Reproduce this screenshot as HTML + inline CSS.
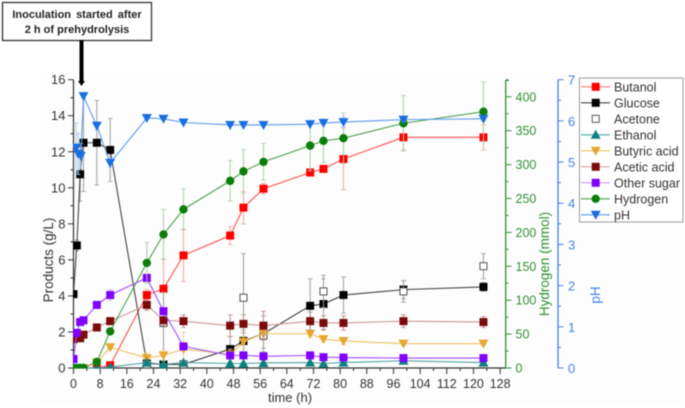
<!DOCTYPE html>
<html>
<head>
<meta charset="utf-8">
<style>
html,body{margin:0;padding:0;background:#fff;width:685px;height:408px;overflow:hidden}
svg{display:block;filter:blur(0.5px)}
text{font-family:"Liberation Sans",sans-serif}
</style>
</head>
<body>
<svg id="chart" xmlns="http://www.w3.org/2000/svg" width="685" height="408" viewBox="0 0 685 408">
  <defs><clipPath id="plot-clip"><rect x="73" y="76" width="433" height="292.500"/></clipPath></defs>
  <rect x="40" y="72" width="645" height="333" fill="#fdfdfd"/>
  <rect x="2.500" y="2.500" width="149" height="38" fill="#fff" stroke="#333" stroke-width="1.300"/>
  <text x="77" y="18" text-anchor="middle" font-size="11" font-weight="bold" fill="#222" word-spacing="2">Inoculation started after</text>
  <text x="77" y="33" text-anchor="middle" font-size="11" font-weight="bold" fill="#222">2 h of prehydrolysis</text>
  <g id="axes"></g>
  <g id="marks"></g>
  <rect x="79.500" y="40" width="4" height="42" fill="#000"/>
  <path d="M78 81H85L81.500 86Z" fill="#000"/>
  <g id="legend"></g>
</svg>
<script>
const times = [0,1,2,3,7,11,22,27,33,47,51,57,71,75,81,99,123];
const phTimes = [0.8,1.4,2.2,3,7,11,22,27,33,47,51,57,71,75,81,99,123];

const butanol = [0,0,0,0,0,0.15,4.05,4.4,6.25,7.35,8.9,9.95,10.85,11.05,11.6,12.8,12.8];
const butanolErr = [0,0,0,0,0,0.1,0.3,1.65,1.45,0.5,0.9,0.3,0.2,0.15,1.7,0.7,0.7];
const glucose = [4.1,6.8,10.75,12.5,12.5,12.1,0.25,0.2,0.2,1.05,1.5,1.9,3.45,3.55,4.05,4.35,4.5];
const glucoseErr = [0,0.3,1.5,2.7,2.35,1.75,0.1,0.1,0.1,0.7,0.6,1,1.5,1.4,1,0.5,0.25];
const acetone = [null,null,null,null,null,null,0.2,2.5,0.2,null,3.9,1.8,null,4.25,null,4.25,5.65];
const acetoneErr = [0,0,0,0,0,0,0.1,1.7,0.1,0,2.45,0.7,0,0.9,0,0.6,0.7];
const ethanol = [0,0,0,0,0,0.05,0.3,0.2,0.3,0.25,0.25,0.28,0.3,0.25,0.3,0.4,0.3];
const ethanolErr = [0,0,0,0,0,0,0.05,0.05,0.05,0.05,0.05,0.05,0.05,0.05,0.05,0.05,0.05];
const butyric = [0,0,0,0,0.3,1.15,0.55,0.7,1.05,0.75,1.45,1.9,1.9,1.6,1.5,1.35,1.35];
const butyricErr = [0,0,0,0,0,0.15,0.3,0.3,0.95,0.3,0.3,0.1,0.2,0.15,0.2,0.1,0.1];
const acetic = [1.6,1.75,1.65,1.85,2.25,2.6,3.5,2.65,2.6,2.35,2.45,2.35,2.6,2.5,2.5,2.6,2.55];
const aceticErr = [0.1,0.2,0.15,0.1,0.15,0.2,0.3,0.3,0.35,0.6,0.5,0.8,0.5,0.4,0.4,0.35,0.3];
const otherSugar = [0.5,1.95,2.55,2.65,3.5,4.05,5,3.15,1.2,0.7,0.7,0.65,0.7,0.6,0.58,0.55,0.55];
const otherSugarErr = [0,0.1,0.1,0.1,0.1,0.3,0.2,0.2,0.1,0.1,0.05,0.05,0.05,0.05,0.05,0.05,0.05];
const hydrogen = [0,0,0,0,9,54,155,197,234,276,290,304,328,335,339,361,378];
const hydrogenErr = [0,0,0,0,2,3,30,37,30,30,32,27,37,32,37,41,44];
const ph = [5.35,5.2,5.15,6.6,5.88,4.98,6.07,6.05,5.96,5.9,5.9,5.9,5.92,5.95,5.97,6.03,6.05];
const phErr = [0.6,0.5,0.3,0.05,0.1,0.1,0.03,0.03,0.03,0.03,0.03,0.03,0.03,0.05,0.12,0.05,0.05];

const xTicks = [0,8,16,24,32,40,48,56,64,72,80,88,96,104,112,120,128];
const leftTicks = [0,2,4,6,8,10,12,14,16];
const hydrogenTicks = [0,50,100,150,200,250,300,350,400];
const phTicks = [0,1,2,3,4,5,6,7];
const legendLabels = ["Butanol","Glucose","Acetone","Ethanol","Butyric acid","Acetic acid","Other sugar","Hydrogen","pH"];

const X = t => 73.5 + t * 3.333;
const YL = v => 368 - v * 18.02;
const YH = v => 368 - v * 0.678;
const YP = v => 368 - v * 41.19;

const NS = 'http://www.w3.org/2000/svg';
const INK = '#333', GREEN = '#2f9136', BLUE = '#3f84ea';

function make(parent, tag, attrs) {
  const el = document.createElementNS(NS, tag);
  for (const k in attrs) el.setAttribute(k, attrs[k]);
  parent.appendChild(el);
  return el;
}
function rule(parent, x1, y1, x2, y2, color, w) {
  return make(parent, 'line', {x1: x1, y1: y1, x2: x2, y2: y2, stroke: color, 'stroke-width': w});
}
function label(parent, x, y, str, anchor, color, size) {
  const t = make(parent, 'text', {x: x, y: y, 'text-anchor': anchor, fill: color, 'font-size': size});
  t.textContent = str;
  return t;
}
function marker(parent, kind, x, y, color) {
  if (kind === 'square') return make(parent, 'rect', {x: x - 4, y: y - 4, width: 8, height: 8, fill: color});
  if (kind === 'hollow') return make(parent, 'rect', {x: x - 3.5, y: y - 3.5, width: 7, height: 7, fill: '#fff', stroke: '#555', 'stroke-width': 1});
  if (kind === 'circle') return make(parent, 'circle', {cx: x, cy: y, r: 4.2, fill: color});
  if (kind === 'up') return make(parent, 'path', {d: `M${x - 5} ${y + 4}H${x + 5}L${x} ${y - 5}Z`, fill: color});
  return make(parent, 'path', {d: `M${x - 5} ${y - 4}H${x + 5}L${x} ${y + 5}Z`, fill: color});
}

const axes = document.getElementById('axes');
const marks = document.getElementById('marks');
const legend = document.getElementById('legend');

/* axes */
const xAxis = rule(axes, 73.5, 368, 506, 368, INK, 1.2);


const leftAxis = rule(axes, 73.5, 80, 73.5, 368, INK, 1.2);


const greenAxis = rule(axes, 505.7, 80, 505.7, 368, GREEN, 1.3);


const blueAxis = rule(axes, 558, 80, 558, 368, BLUE, 1.3);



xTicks.forEach(v => {
  rule(axes, X(v), 368, X(v), 374, INK, 1);
  if (v < 128) rule(axes, X(v + 4), 368, X(v + 4), 371, INK, 1);
  const t = label(axes, X(v), 388, v, 'middle', INK, 12.5);
  
  
});
leftTicks.forEach(v => {
  rule(axes, 68, YL(v), 73.5, YL(v), INK, 1);
  if (v < 16) rule(axes, 70.5, YL(v + 1), 73.5, YL(v + 1), INK, 1);
  const t = label(axes, 65.5, YL(v) + 4.5, v, 'end', INK, 13);
  
  
});
hydrogenTicks.forEach(v => {
  rule(axes, 505.7, YH(v), 511.5, YH(v), GREEN, 1);
  rule(axes, 505.7, YH(v + 25), 508.5, YH(v + 25), GREEN, 1);
  const t = label(axes, 515.5, YH(v) + 4.5, v, 'start', GREEN, 12.5);
  
  
});
rule(axes, 505.7, 80.5, 509, 80.5, GREEN, 1);
phTicks.forEach(v => {
  rule(axes, 558, YP(v), 563.5, YP(v), BLUE, 1);
  if (v < 7) rule(axes, 558, YP(v + 0.5), 561, YP(v + 0.5), BLUE, 1);
  const t = label(axes, 568, YP(v) + 5, v, 'start', BLUE, 13);
  
  
});

/* axis titles */
const xTitle = label(axes, 290, 402, 'time (h)', 'middle', INK, 13);


const yTitle = label(axes, 0, 0, 'Products (g/L)', 'middle', INK, 13.5);
yTitle.setAttribute('transform', 'translate(53 260) rotate(-90)');


const hTitle = label(axes, 0, 0, 'Hydrogen (mmol)', 'middle', GREEN, 13.5);
hTitle.setAttribute('transform', 'translate(549 264) rotate(-90)');


const pTitle = label(axes, 0, 0, 'pH', 'middle', BLUE, 13.5);
pTitle.setAttribute('transform', 'translate(600 295) rotate(-90)');



/* series */
function drawSeries(name, ts, values, errs, yFn, kind, color, lineColor, errColor, connect) {
  const g = make(marks, 'g', {'clip-path': 'url(#plot-clip)'});
  
  
  values.forEach((v, i) => {
    if (v === null || !errs[i]) return;
    const x = X(ts[i]), top = yFn(v + errs[i]), bot = yFn(Math.max(v - errs[i], 0));
    rule(g, x, top, x, bot, errColor, 1);
    rule(g, x - 2.5, top, x + 2.5, top, errColor, 0.8);
    rule(g, x - 2.5, bot, x + 2.5, bot, errColor, 0.8);
  });
  if (connect) {
    const pts = values.map((v, i) => X(ts[i]) + ',' + yFn(v)).join(' ');
    make(g, 'polyline', {points: pts, fill: 'none', stroke: lineColor, 'stroke-width': 1.1});
  }
  values.forEach((v, i) => {
    if (v === null) return;
    const m = marker(g, kind, X(ts[i]), yFn(v), color);
    
    
  });
}
drawSeries('butanol', times, butanol, butanolErr, YL, 'square', '#ff0000', '#ff4d4d', '#f6a3a3', true);
drawSeries('glucose', times, glucose, glucoseErr, YL, 'square', '#000000', '#444444', '#a0a0a0', true);
drawSeries('acetone', times, acetone, acetoneErr, YL, 'hollow', '#555555', '#555555', '#9a9a9a', false);
drawSeries('butyric-acid', times, butyric, butyricErr, YL, 'down', '#e5a832', '#efc064', '#f0d08c', true);
drawSeries('acetic-acid', times, acetic, aceticErr, YL, 'square', '#7b0a0a', '#c79a9a', '#c08888', true);
drawSeries('ethanol', times, ethanol, ethanolErr, YL, 'up', '#0f8080', '#4fa5a5', '#8cc4c4', true);
drawSeries('other-sugar', times, otherSugar, otherSugarErr, YL, 'square', '#8000ff', '#a14dff', '#cfa6ff', true);
drawSeries('hydrogen', times, hydrogen, hydrogenErr, YH, 'circle', '#0a7d0a', '#4ca04c', '#a5d0a5', true);
drawSeries('ph', phTimes, ph, phErr, YP, 'down', '#1a6fe0', '#5c9bec', '#a9c8f2', true);

/* legend */
const legendKinds = ['square','square','hollow','up','down','square','square','circle','down'];
const legendColors = ['#ff0000','#000000','#555555','#0f8080','#e5a832','#7b0a0a','#8000ff','#0a7d0a','#1a6fe0'];
const legendLines = ['#ff7a7a','#444444',null,'#4fa5a5','#efc064','#d4a6a6','#c79bff','#4ca04c','#5c9bec'];
const frame = make(legend, 'rect', {x: 579.5, y: 78, width: 103.5, height: 144, fill: '#fff', stroke: '#999', 'stroke-width': 1});


legendLabels.forEach((name, i) => {
  const y = 86.8 + i * 16;
  const g = make(legend, 'g', {});
  
  
  if (legendLines[i]) rule(g, 581, y, 610, y, legendLines[i], 1.1);
  marker(g, legendKinds[i], 595.7, y, legendColors[i]);
  label(g, 614, y + 4.5, name, 'start', INK, 12.5);
});
</script>
</body>
</html>
